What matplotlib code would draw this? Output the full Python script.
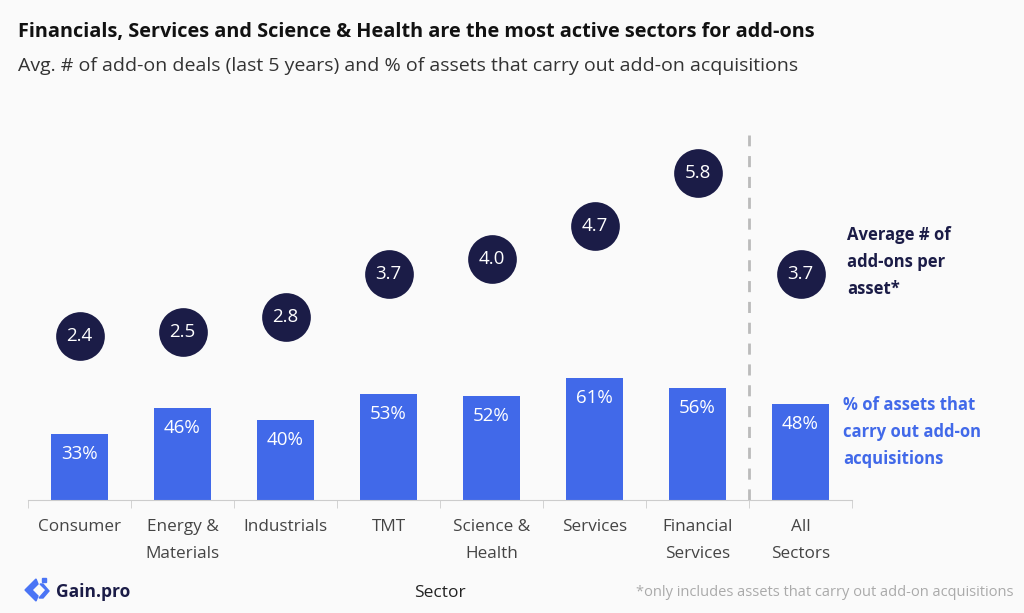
import matplotlib
matplotlib.use("Agg")
import matplotlib.pyplot as plt
from matplotlib.patches import Polygon
import numpy as np

categories = ["Consumer", "Energy &\nMaterials", "Industrials", "TMT", "Science &\nHealth",
              "Services", "Financial\nServices", "All\nSectors"]
pct_assets = [33, 46, 40, 53, 52, 61, 56, 48]
avg_addons = [2.4, 2.5, 2.8, 3.7, 4.0, 4.7, 5.8, 3.7]

BG = "#fafafa"
BLUE = "#4169e9"
NAVY = "#1b1c47"
FONT = ["Open Sans", "DejaVu Sans"]
plt.rcParams["font.family"] = FONT

fig = plt.figure(figsize=(10.24, 6.13), dpi=100, facecolor=BG)
W, H = 1024, 613
ax = fig.add_axes([28 / W, 1 - 500 / H, (852 - 28) / W, (500 - 99) / H])
ax.set_facecolor(BG)
x = np.arange(len(categories))
bars = ax.bar(x, pct_assets, width=0.56, color=BLUE, zorder=2)
ax.set_xlim(-0.5, len(categories) - 0.5)
ax.set_ylim(0, 200)
for xi, v in zip(x, pct_assets):
    ax.text(xi, v - 5.5, f"{v}%", ha="center", va="top", color="white", fontsize=13.5)

ax2 = ax.twinx()
ax2.set_ylim(-1, 7.33)
ax2.scatter(x, avg_addons, s=1230, color=NAVY, zorder=3, linewidths=0)
for xi, v in zip(x, avg_addons):
    ax2.text(xi, v, f"{v:.1f}", ha="center", va="center", color="white", fontsize=13.5, zorder=4)

ax.axvline(6.5, ymin=0, ymax=(500 - 135) / (500 - 99), color="#bbbbbb", lw=2,
           dashes=(4, 3.5), zorder=1)

for a in (ax, ax2):
    for s in a.spines.values():
        s.set_visible(False)
    a.tick_params(left=False, right=False, labelleft=False, labelright=False)
ax.spines["bottom"].set_visible(True)
ax.spines["bottom"].set_color("#cccccc")
ax.set_xticks(x)
ax.set_xticklabels(categories, fontsize=12.3, color="#444444", linespacing=1.92)
ax.tick_params(axis="x", length=0, pad=14)
ax.set_xticks(np.arange(-0.5, len(categories)), minor=True)
ax.tick_params(axis="x", which="minor", length=6, color="#cccccc")

ax.set_xlabel("Sector", fontsize=12.5, color="#222222", labelpad=16)

fig.text(18 / W, 1 - 32 / H, "Financials, Services and Science & Health are the most active sectors for add-ons",
         fontsize=14.3, fontweight="bold", color="#111111", va="center")
fig.text(18 / W, 1 - 66 / H, "Avg. # of add-on deals (last 5 years) and % of assets that carry out add-on acquisitions",
         fontsize=14, color="#333333", va="center")

fig.text(847 / W, 1 - 262 / H, "Average # of\nadd-ons per\nasset*", fontsize=12, fontweight="bold",
         color=NAVY, va="center", ha="left", linespacing=1.62)
fig.text(843 / W, 1 - 432 / H, "% of assets that\ncarry out add-on\nacquisitions", fontsize=12, fontweight="bold",
         color=BLUE, va="center", ha="left", linespacing=1.62)

fig.text(1014 / W, 1 - 592 / H, "*only includes assets that carry out add-on acquisitions",
         fontsize=10.5, color="#aaaaaa", ha="right", va="center")

# logo
lax = fig.add_axes([22 / W, 1 - 606 / H, 30 / W, 30 / H])
lax.set_xlim(0, 30); lax.set_ylim(0, 30); lax.axis("off")
lax.add_patch(Polygon([[14, 27], [3, 16], [14, 5], [16, 10], [10, 16], [16, 22]], closed=True, color="#4a74f5"))
lax.add_patch(Polygon([[18, 22], [24, 16], [17, 8], [21, 8], [27, 15], [21, 22]], closed=True, color="#4a74f5"))
lax.add_patch(Polygon([[20, 28], [24, 28], [24, 24], [20, 24]], closed=True, color="#4a74f5"))
fig.text(56 / W, 1 - 592 / H, "Gain.pro", fontsize=12.5, fontweight="bold", color="#1b1c47", va="center")

fig.savefig("out.png", dpi=100, facecolor=BG)
